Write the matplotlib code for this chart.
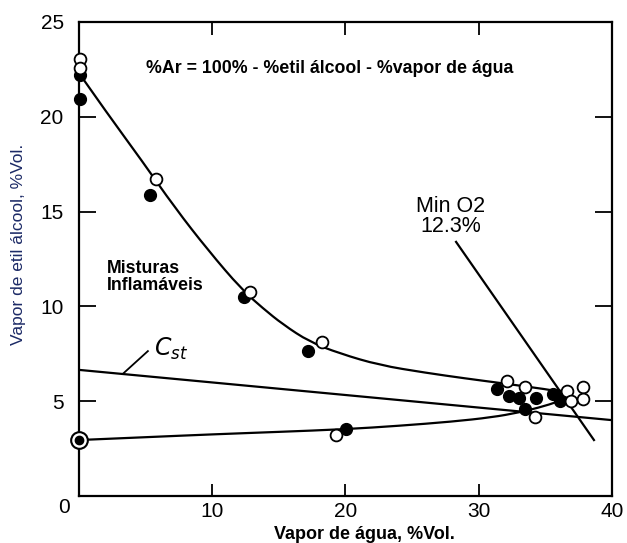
import matplotlib.pyplot as plt
from matplotlib.path import Path
from matplotlib.patches import PathPatch

# upper and lower branches of the flammability envelope
upper_x = [0.1, 2.2, 4.7, 7.2, 9.7, 12.2, 13.8, 15.3, 17.3, 19.55, 22.55, 26.0, 29.0, 31.5, 34.0, 35.8, 36.6]
upper_y = [22.2, 20.1, 17.7, 15.2, 12.95, 10.9, 9.9, 9.05, 8.13, 7.52, 6.9, 6.5, 6.2, 5.97, 5.73, 5.55, 5.3]
lower_x = [0, 5, 10, 15, 20, 24, 28, 31, 33, 35, 36.2, 36.6]
lower_y = [2.95, 3.1, 3.25, 3.38, 3.52, 3.7, 3.92, 4.15, 4.4, 4.75, 5.05, 5.3]

# stoichiometric line and minimum O2 line
cst_x = [0, 40]
cst_y = [6.65, 4.0]
mino2_x = [28.3, 38.65]
mino2_y = [13.4, 2.95]

# measured points
open_x = [0.05, 0.05, 5.75, 12.8, 18.25, 19.3, 32.1, 33.5, 34.2, 36.6, 36.9, 37.8, 37.8]
open_y = [23.06, 22.57, 16.7, 10.76, 8.13, 3.21, 6.06, 5.73, 4.15, 5.55, 5.02, 5.76, 5.09]
filled_x = [0.1, 0.05, 5.35, 12.36, 17.18, 20.05, 31.4, 32.3, 33.0, 34.3, 33.5, 35.55, 35.9, 36.1]
filled_y = [22.18, 20.95, 15.86, 10.5, 7.66, 3.51, 5.62, 5.27, 5.15, 5.15, 4.57, 5.38, 5.3, 5.0]
ref_x = [0]
ref_y = [2.95]

x_ticks = [0, 10, 20, 30, 40]
x_labels = ["", "10", "20", "30", "40"]
y_ticks = [0, 5, 10, 15, 20, 25]
y_labels = ["", "5", "10", "15", "20", "25"]


def smooth_curve(ax, xs, ys, **kw):
    # quadratic bezier through midpoints, read points act as control points
    pts = list(zip(xs, ys))
    verts = [pts[0]]
    codes = [Path.MOVETO]
    for i in range(1, len(pts) - 1):
        mid = ((pts[i][0] + pts[i + 1][0]) / 2, (pts[i][1] + pts[i + 1][1]) / 2)
        verts += [pts[i], mid]
        codes += [Path.CURVE3, Path.CURVE3]
    verts.append(pts[-1])
    codes.append(Path.LINETO)
    ax.add_patch(PathPatch(Path(verts, codes), fill=False, **kw))


plt.rcParams["font.family"] = ["Liberation Sans", "DejaVu Sans"]

fig = plt.figure(figsize=(6.27, 5.43), dpi=100)
ax = fig.add_axes([0.126, 0.0866, 0.850, 0.873])

lw = 1.6
smooth_curve(ax, upper_x, upper_y, edgecolor="black", lw=lw, zorder=2)
smooth_curve(ax, lower_x, lower_y, edgecolor="black", lw=lw, zorder=2)
ax.plot(cst_x, cst_y, color="black", lw=lw, zorder=2)
ax.plot(mino2_x, mino2_y, color="black", lw=lw, zorder=2)

ax.plot(filled_x, filled_y, "o", ms=8.5, color="black", zorder=4, clip_on=False)
ax.plot(open_x, open_y, "o", ms=8.5, mfc="white", mec="black", mew=1.3, zorder=5, clip_on=False)
ax.plot(ref_x, ref_y, "o", ms=12, mfc="white", mec="black", mew=1.5, zorder=5, clip_on=False)
ax.plot(ref_x, ref_y, "o", ms=6, color="black", zorder=6, clip_on=False)

ax.set_xlim(0, 40)
ax.set_ylim(0, 25)
ax.set_xticks(x_ticks, x_labels)
ax.set_yticks(y_ticks, y_labels)
ax.tick_params(direction="in", top=True, right=True, width=1.3, labelsize=15, color="black")
ax.tick_params(axis="y", length=12, pad=11)
ax.tick_params(axis="x", length=9, pad=4)
for s in ax.spines.values():
    s.set_linewidth(1.6)

# shared origin label
ax.text(-0.7, -0.6, "0", fontsize=15, ha="right", va="center")

ax.set_xlabel("Vapor de água, %Vol.", fontsize=13, fontweight="bold", va="center")
ax.xaxis.set_label_coords(0.535, -0.082)
ax.set_ylabel("Vapor de etil álcool, %Vol.", fontsize=12.5, color="#1c2a66", va="center")
ax.yaxis.set_label_coords(-0.114, 0.53)

ax.text(18.8, 22.55, "%Ar = 100% - %etil álcool - %vapor de água", fontsize=12.8,
        fontweight="bold", ha="center", va="center")
ax.text(2.1, 11.55, "Misturas\nInflamáveis", fontsize=12.8, fontweight="bold",
        ha="left", va="center", linespacing=1.05)
ax.text(27.9, 14.75, "Min O2\n12.3%", fontsize=15.5, ha="center", va="center", linespacing=0.95)

ax.text(5.6, 7.75, "$C_{st}$", fontsize=17, ha="left", va="center")
ax.plot([5.17, 3.32], [7.64, 6.46], color="black", lw=1.3)

fig.savefig("out.png", dpi=100)
